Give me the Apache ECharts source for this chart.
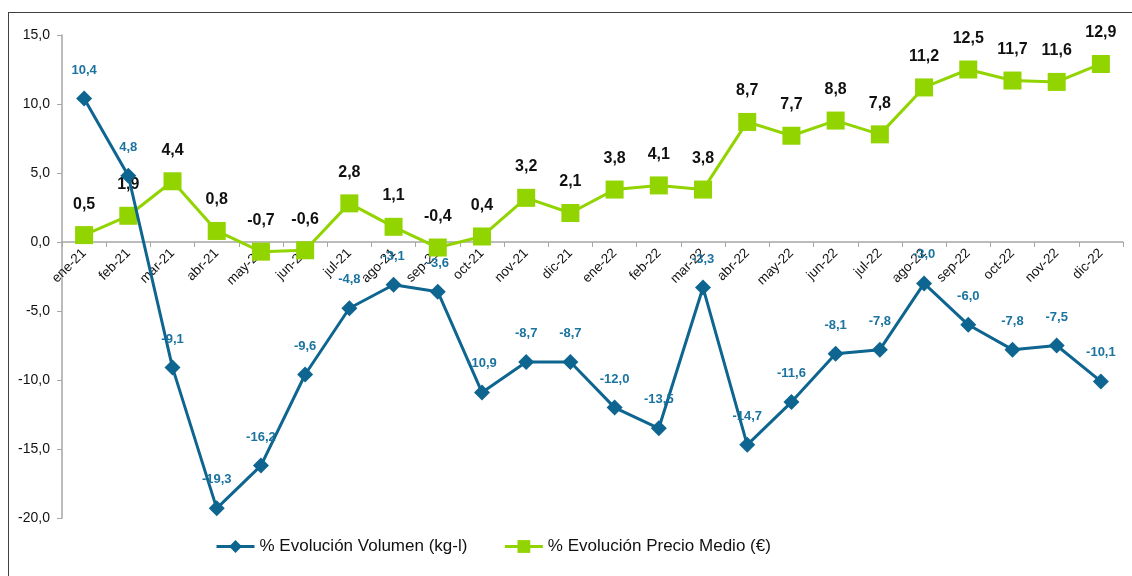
<!DOCTYPE html>
<html>
<head>
<meta charset="utf-8">
<script src="https://cdn.jsdelivr.net/npm/echarts@6/dist/echarts.min.js"></script>
<style>
  html, body { margin: 0; padding: 0; background: #fff; }
  #frame { position: absolute; left: 8px; top: 12px; width: 1140px; height: 580px; border: 1px solid #404040; }
  #chart { position: absolute; left: 0; top: 0; width: 1132px; height: 576px; }
</style>
</head>
<body>
<div id="frame"></div>
<div id="chart"></div>
<script>
// meses
var months = ['ene-21','feb-21','mar-21','abr-21','may-21','jun-21','jul-21','ago-21','sep-21','oct-21','nov-21','dic-21',
              'ene-22','feb-22','mar-22','abr-22','may-22','jun-22','jul-22','ago-22','sep-22','oct-22','nov-22','dic-22'];
// % evolución volumen
var volumen = [10.4, 4.8, -9.1, -19.3, -16.2, -9.6, -4.8, -3.1, -3.6, -10.9, -8.7, -8.7,
               -12.0, -13.5, -3.3, -14.7, -11.6, -8.1, -7.8, -3.0, -6.0, -7.8, -7.5, -10.1];
// % evolución precio medio
var precio = [0.5, 1.9, 4.4, 0.8, -0.7, -0.6, 2.8, 1.1, -0.4, 0.4, 3.2, 2.1,
              3.8, 4.1, 3.8, 8.7, 7.7, 8.8, 7.8, 11.2, 12.5, 11.7, 11.6, 12.9];

var fontFam = 'Liberation Sans, Arial, sans-serif';
function fmt(v) { return v.toFixed(1).replace('.', ','); }

var chart = echarts.init(document.getElementById('chart'));
var option = {
  animation: false,
  textStyle: { fontFamily: fontFam },
  grid: { left: 62, right: 9, top: 35, bottom: 58 },
  legend: {
    bottom: 16,
    left: 210,
    itemWidth: 38,
    itemHeight: 16,
    itemGap: 36,
    lineStyle: { width: 3 },
    textStyle: { fontSize: 17, color: '#111', fontFamily: fontFam },
    data: ['% Evolución Volumen (kg-l)', '% Evolución Precio Medio (€)']
  },
  xAxis: {
    type: 'category',
    data: months,
    boundaryGap: true,
    position: 'bottom',
    offset: -276,
    axisLine: { onZero: false, lineStyle: { color: '#a6a6a6', width: 1.5 } },
    axisTick: { show: true, length: 5, lineStyle: { color: '#a6a6a6' } },
    axisLabel: { rotate: 45, fontSize: 13.5, color: '#111', margin: 9, interval: 0 }
  },
  yAxis: {
    type: 'value',
    min: -20,
    max: 15,
    interval: 5,
    splitLine: { show: false },
    axisLine: { show: true, lineStyle: { color: '#a6a6a6', width: 1.5 } },
    axisTick: { show: true, length: 5, lineStyle: { color: '#a6a6a6' } },
    axisLabel: { fontSize: 14, color: '#111', margin: 12, formatter: function (v) { return fmt(v); } }
  },
  series: [
    {
      name: '% Evolución Volumen (kg-l)',
      type: 'line',
      data: volumen,
      symbol: 'diamond',
      symbolSize: 16,
      lineStyle: { color: '#0d6590', width: 3 },
      itemStyle: { color: '#0d6590' },
      label: {
        show: true,
        position: 'top',
        distance: 14,
        fontSize: 13,
        fontWeight: 'bold',
        color: '#1b73a0',
        formatter: function (p) { return fmt(p.value); }
      },
      z: 3
    },
    {
      name: '% Evolución Precio Medio (€)',
      type: 'line',
      data: precio,
      symbol: 'rect',
      symbolSize: 18,
      lineStyle: { color: '#92d400', width: 3 },
      itemStyle: { color: '#92d400' },
      label: {
        show: true,
        position: 'top',
        distance: 14,
        fontSize: 16,
        fontWeight: 'bold',
        color: '#111',
        formatter: function (p) { return fmt(p.value); }
      },
      z: 2
    }
  ]
};
chart.setOption(option);
</script>
</body>
</html>
